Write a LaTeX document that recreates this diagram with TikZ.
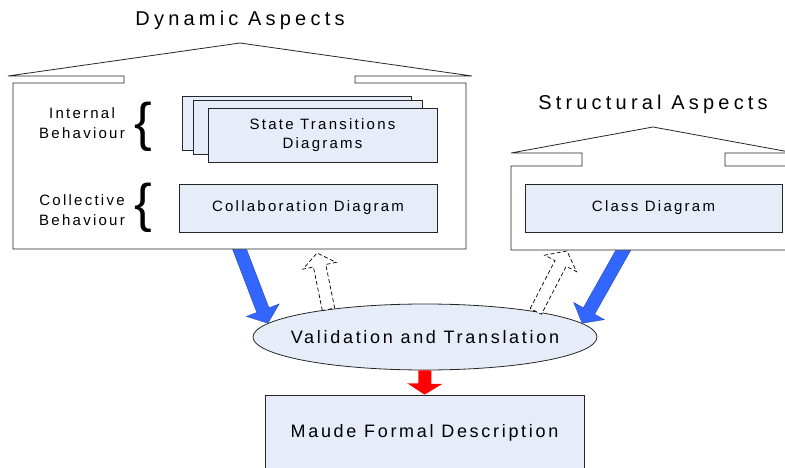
\documentclass[tikz,border=0pt]{standalone}
\usepackage{fontspec}
\setmainfont{Liberation Sans}
\newfontfamily\trackedfont[LetterSpace=15]{Liberation Sans}
\newfontfamily\titlefont[LetterSpace=21]{Liberation Sans}
\usepackage{tikz}
\usetikzlibrary{calc}
\usetikzlibrary{shapes.geometric}

\definecolor{boxfill}{RGB}{230,236,248}
\definecolor{arrowblue}{RGB}{51,102,255}

% fat arrow: style, from, tip, shaft half width, head half width, head length
\newcommand{\fatarrow}[6]{%
  \coordinate (neck) at ($(#3)!#6!(#2)$);
  \path[#1] ($(#2)!#4!90:(#3)$) -- ($(neck)!#4!90:(#3)$) -- ($(neck)!#5!90:(#3)$) -- (#3)
    -- ($(neck)!#5!-90:(#3)$) -- ($(neck)!#4!-90:(#3)$) -- ($(#2)!#4!-90:(#3)$) -- cycle;
}

\begin{document}
\begin{tikzpicture}[x=1pt,y=-1pt]
\tikzstyle{diagram}=[draw=black!85, fill=boxfill, line width=0.8pt, inner sep=0pt, align=center, font=\trackedfont\fontsize{15}{19}\selectfont]
\tikzstyle{house}=[draw=black!85, fill=white, line width=0.8pt]
\tikzstyle{title}=[font=\titlefont\fontsize{20}{24}\selectfont]
\tikzstyle{side}=[align=center, font=\trackedfont\fontsize{15}{20}\selectfont]
\tikzstyle{brace}=[inner sep=0pt, font=\fontsize{53}{53}\selectfont]
\tikzstyle{solid arrow}=[fill=arrowblue, draw=arrowblue!70!black, line width=0.4pt]
\tikzstyle{hollow arrow}=[draw=black, fill=white, line width=0.7pt, dash pattern=on 4pt off 2.5pt]
\clip (0,0) rectangle (785,468);

\node[diagram, ellipse, minimum width=344pt, minimum height=66pt, font=\trackedfont\fontsize{18}{22}\selectfont] (VT) at (425,337) {\makebox[0pt]{Validation and Translation}};
\node[diagram, minimum width=319pt, minimum height=75pt, font=\trackedfont\fontsize{18}{22}\selectfont] (MFD) at (424.5,432.5) {Maude Formal Description};

\coordinate (DAout) at (236,240);
\coordinate (DAin) at (317,253);
\coordinate (SAout) at (629,240);
\coordinate (SAin) at (567,251);

\fatarrow{solid arrow}{DAout}{VT.175}{6.5pt}{17.5pt}{14pt}
\fatarrow{solid arrow}{SAout}{VT.5}{6.5pt}{17.5pt}{14pt}
\fatarrow{hollow arrow}{VT.164}{DAin}{6.3pt}{17pt}{13pt}
\fatarrow{hollow arrow}{VT.13}{SAin}{6.3pt}{18pt}{14pt}
\fatarrow{fill=red}{VT.south}{MFD.north}{6.5pt}{17.5pt}{11pt}

% dynamic aspects
\draw[house] (124,83) -- (124,76) -- (8,76) -- (240,43) -- (472,76) -- (355,76) -- (355,83)
  -- (466,83) -- (466,249) -- (13,249) -- (13,83) -- cycle;
\node[title] (DA) at (240,20) {Dynamic Aspects};
\node[diagram, minimum width=229pt, minimum height=54pt] (ST3) at (296.5,123) {};
\node[diagram, minimum width=229pt, minimum height=54pt] (ST2) at (307.5,127) {};
\node[diagram, minimum width=229pt, minimum height=54pt] (ST1) at (322.5,135) {State Transitions\\Diagrams};
\node[diagram, minimum width=258pt, minimum height=48pt] (CD) at (308,208) {Collaboration Diagram};
\node[side] (IB) at (82,123.5) {Internal\\Behaviour};
\node[side] (CB) at (82,210) {Collective\\Behaviour};
\node[brace] (B1) at (143,127) {\{};
\node[brace] (B2) at (143,207.5) {\{};

% structural aspects
\draw[house] (582,166) -- (582,153) -- (511,153) -- (653,127) -- (795,153) -- (725,153) -- (725,166)
  -- (795,166) -- (795,250) -- (511,250) -- (511,166) -- cycle;
\node[title] (SA) at (653,104) {Structural Aspects};
\node[diagram, minimum width=257pt, minimum height=48pt] (CL) at (653.5,208) {Class Diagram};
\end{tikzpicture}
\end{document}
